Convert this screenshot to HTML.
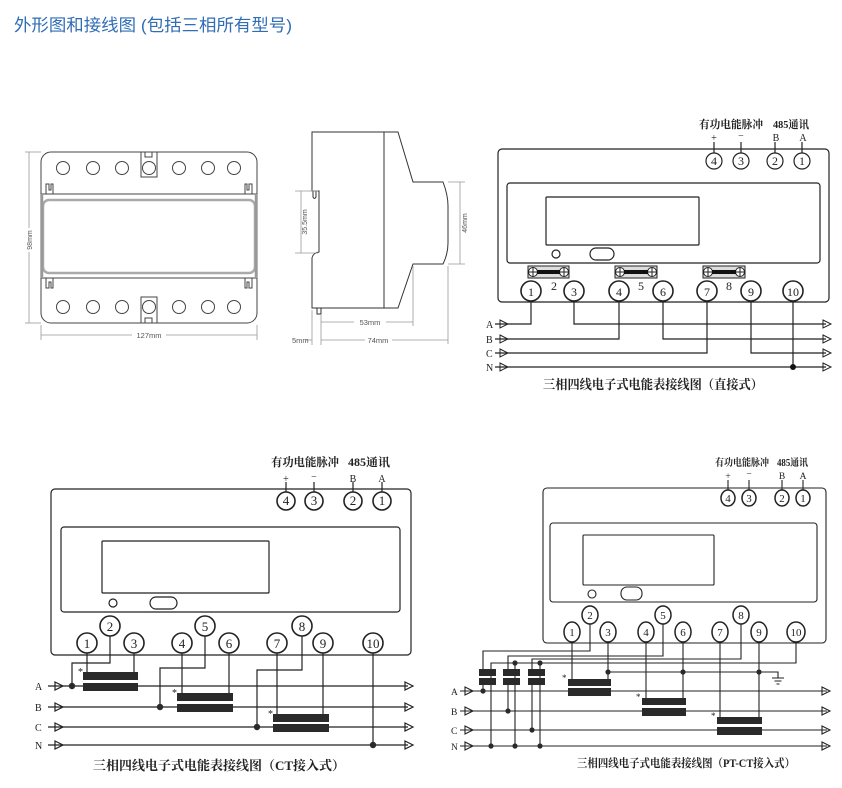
<!DOCTYPE html>
<html><head><meta charset="utf-8">
<style>
html,body{margin:0;padding:0;background:#fff;}
svg{display:block;}
.t{font-family:"Liberation Sans","Noto Sans CJK SC",sans-serif;}
.s{font-family:"Liberation Serif","Noto Serif CJK SC",serif;}
.cj{font-family:"Liberation Serif","Noto Serif CJK SC",serif;font-weight:bold;}
</style></head>
<body>
<svg width="842" height="788" viewBox="0 0 842 788" xmlns="http://www.w3.org/2000/svg">
<rect width="842" height="788" fill="#fff"/>
<!-- Title -->
<text class="t" x="14" y="31" font-size="17" fill="#2f6db5" textLength="278" lengthAdjust="spacingAndGlyphs">外形图和接线图 (包括三相所有型号)</text>

<!-- ========== FRONT VIEW ========== -->
<g fill="none" stroke="#444" stroke-width="1">
  <rect x="41" y="152" width="216" height="171" rx="10"/>
  <line x1="41" y1="194" x2="257" y2="194"/>
  <line x1="41" y1="278" x2="257" y2="278"/>
  <rect x="43" y="200" width="212" height="73" rx="6" stroke="#aaa" stroke-width="2.5"/>
  <line x1="42" y1="194" x2="42" y2="278" stroke="#999" stroke-width="2.5"/>
  <line x1="256" y1="194" x2="256" y2="278" stroke="#999" stroke-width="2.5"/>
  <path d="M46,194 V184 H49 V190 H51 V184 H53 V194"/>
  <path d="M245,194 V184 H247 V190 H249 V184 H252 V194"/>
  <path d="M46,278 V288 H49 V282 H51 V288 H53 V278"/>
  <path d="M245,278 V288 H247 V282 H249 V288 H252 V278"/>
  <circle cx="63" cy="168" r="6.5"/><circle cx="93" cy="168" r="6.5"/><circle cx="122" cy="168" r="6.5"/>
  <circle cx="149" cy="168" r="6.5"/><circle cx="179" cy="168" r="6.5"/><circle cx="208" cy="168" r="6.5"/><circle cx="234" cy="168" r="6.5"/>
  <circle cx="63" cy="307" r="6.5"/><circle cx="93" cy="307" r="6.5"/><circle cx="122" cy="307" r="6.5"/>
  <circle cx="149" cy="307" r="6.5"/><circle cx="179" cy="307" r="6.5"/><circle cx="208" cy="307" r="6.5"/><circle cx="234" cy="307" r="6.5"/>
  <rect x="141" y="152" width="16" height="25"/>
  <rect x="145" y="152" width="7" height="5"/>
  <rect x="141" y="297" width="16" height="26"/>
  <rect x="145" y="318" width="7" height="5"/>
</g>
<g stroke="#999" stroke-width="0.8" fill="none">
  <line x1="29" y1="152" x2="29" y2="228"/><line x1="29" y1="252" x2="29" y2="323"/>
  <line x1="25" y1="152" x2="41" y2="152"/><line x1="25" y1="323" x2="41" y2="323"/>
  <line x1="41" y1="335" x2="132" y2="335"/><line x1="166" y1="335" x2="257" y2="335"/>
  <line x1="41" y1="325" x2="41" y2="340"/><line x1="257" y1="325" x2="257" y2="340"/>
</g>
<text class="t" x="0" y="0" font-size="7" fill="#555" text-anchor="middle" transform="translate(32,240) rotate(-90)">98mm</text>
<text class="t" x="149" y="338" font-size="7.5" fill="#555" text-anchor="middle">127mm</text>

<!-- ========== SIDE VIEW ========== -->
<g fill="none" stroke="#333" stroke-width="1">
  <path d="M312,132 L398,132 L413,182 L443,182 Q448,195 448,206 L448,243 Q448,254 443,264 L413,264 L398,308 L312,308 L312,258 Q313,253 319,252 L319,191 L312,191 Z"/>
  <path d="M313,191 L313,197 Q314.5,200 316,197 L316,191"/>
  <line x1="384" y1="132" x2="384" y2="308"/>
  <rect x="317" y="308" width="4" height="6"/>
</g>
<g stroke="#999" stroke-width="0.8" fill="none">
  <line x1="301" y1="191" x2="301" y2="253"/>
  <line x1="295" y1="191" x2="318" y2="191"/><line x1="295" y1="253" x2="318" y2="253"/>
  <line x1="460" y1="182" x2="460" y2="264"/>
  <line x1="448" y1="182" x2="465" y2="182"/><line x1="448" y1="264" x2="465" y2="264"/>
  <line x1="413" y1="266" x2="413" y2="326"/>
  <line x1="448" y1="266" x2="448" y2="344"/>
  <line x1="312" y1="310" x2="312" y2="345"/>
  <line x1="321" y1="314" x2="321" y2="345"/>
  <line x1="321" y1="322" x2="354" y2="322"/><line x1="386" y1="322" x2="413" y2="322"/>
  <line x1="321" y1="340" x2="365" y2="340"/><line x1="392" y1="340" x2="448" y2="340"/>
  <line x1="306" y1="340" x2="312" y2="340"/>
</g>
<text class="t" font-size="7" fill="#555" text-anchor="middle" transform="translate(307,222) rotate(-90)">35.5mm</text>
<text class="t" font-size="7" fill="#555" text-anchor="middle" transform="translate(467,223) rotate(-90)">46mm</text>
<text class="t" x="370" y="325" font-size="7.5" fill="#555" text-anchor="middle">53mm</text>
<text class="t" x="378" y="343" font-size="7.5" fill="#555" text-anchor="middle">74mm</text>
<text class="t" x="292" y="343" font-size="7.5" fill="#555">5mm</text>

<!-- ========== DIAGRAM 1 (direct) ========== -->
<g fill="none" stroke="#222" stroke-width="1.2">
  <rect x="498" y="149" width="331" height="153" rx="4"/>
  <rect x="507" y="183" width="313" height="80" rx="3"/>
  <rect x="546" y="197" width="153" height="48" rx="1"/>
  <circle cx="556" cy="254" r="4"/>
  <rect x="590" y="248" width="24" height="12" rx="6"/>
  <line x1="714" y1="142" x2="714" y2="153"/><line x1="741" y1="142" x2="741" y2="153"/>
  <line x1="775" y1="142" x2="775" y2="153"/><line x1="802" y1="142" x2="802" y2="153"/>
  <circle cx="714" cy="161" r="8"/><circle cx="741" cy="161" r="8"/><circle cx="775" cy="161" r="8"/><circle cx="802" cy="161" r="8"/>
  <g stroke-width="1.6">
  <circle cx="531" cy="291" r="10"/><circle cx="574" cy="291" r="10"/><circle cx="619" cy="291" r="10"/>
  <circle cx="663" cy="291" r="10"/><circle cx="707" cy="291" r="10"/><circle cx="751" cy="291" r="10"/><circle cx="793" cy="291" r="10"/>
  </g>
  <!-- wires -->
  <path d="M495,324 H531 V301"/>
  <path d="M574,301 V324 H826"/>
  <path d="M495,339 H619 V301"/>
  <path d="M663,301 V339 H826"/>
  <path d="M495,353 H707 V301"/>
  <path d="M751,301 V353 H826"/>
  <path d="M495,367 H826"/>
  <path d="M793,301 V367"/>
</g>
<!-- link bars -->
<g stroke="#222" stroke-width="1">
  <g fill="#ddd"><rect x="528" y="266" width="41" height="12"/><rect x="615" y="266" width="42" height="12"/><rect x="703" y="266" width="42" height="12"/></g>
  <g fill="#fff">
  <circle cx="533" cy="272" r="4.5"/><circle cx="564" cy="272" r="4.5"/>
  <circle cx="620" cy="272" r="4.5"/><circle cx="652" cy="272" r="4.5"/>
  <circle cx="708" cy="272" r="4.5"/><circle cx="740" cy="272" r="4.5"/></g>
  <path d="M529,272h8M533,268v8M560,272h8M564,268v8M616,272h8M620,268v8M648,272h8M652,268v8M704,272h8M708,268v8M736,272h8M740,268v8"/>
  <g fill="#111" stroke="none"><rect x="537" y="270" width="23" height="4"/><rect x="624" y="270" width="24" height="4"/><rect x="712" y="270" width="24" height="4"/></g>
</g>
<circle cx="793" cy="367" r="3" fill="#111"/>
<g fill="none" stroke="#222" stroke-width="1">
  <path d="M500,320 L508,324 L500,328 Z"/><path d="M500,335 L508,339 L500,343 Z"/><path d="M500,349 L508,353 L500,357 Z"/><path d="M500,363 L508,367 L500,371 Z"/>
  <path d="M823,320 L831,324 L823,328 Z"/><path d="M823,335 L831,339 L823,343 Z"/><path d="M823,349 L831,353 L823,357 Z"/><path d="M823,363 L831,367 L823,371 Z"/>
</g>
<g class="s" fill="#222">
  <text x="486" y="328" font-size="10">A</text><text x="486" y="343" font-size="10">B</text>
  <text x="486" y="357" font-size="10">C</text><text x="486" y="371" font-size="10">N</text>
  <g font-size="12" text-anchor="middle">
  <text x="714" y="165">4</text><text x="741" y="165">3</text><text x="775" y="165">2</text><text x="802" y="165">1</text>
  <text x="531" y="296">1</text><text x="574" y="296">3</text><text x="619" y="296">4</text><text x="663" y="296">6</text>
  <text x="707" y="296">7</text><text x="751" y="296">9</text><text x="793" y="296">10</text>
  <text x="554" y="290">2</text><text x="641" y="290">5</text><text x="729" y="290">8</text>
  </g>
  <g font-size="10" text-anchor="middle">
  <text x="714" y="141">+</text><text x="741" y="139">−</text><text x="776" y="141">B</text><text x="803" y="141">A</text>
  </g>
</g>
<text class="cj" x="699" y="128" font-size="11" fill="#222" textLength="64" lengthAdjust="spacingAndGlyphs">有功电能脉冲</text>
<text class="cj" x="773" y="128" font-size="11" fill="#222" textLength="36" lengthAdjust="spacingAndGlyphs">485通讯</text>
<text class="cj" x="543" y="389" font-size="13" fill="#222" textLength="220" lengthAdjust="spacingAndGlyphs">三相四线电子式电能表接线图（直接式）</text>

<!-- ========== DIAGRAM 2 (CT) ========== -->
<g fill="none" stroke="#222" stroke-width="1.2">
  <rect x="51" y="489" width="360" height="166" rx="4"/>
  <rect x="61" y="527" width="339" height="85" rx="3"/>
  <rect x="102" y="541" width="167" height="52" rx="1"/>
  <circle cx="113" cy="603" r="4"/>
  <rect x="150" y="597" width="27" height="12" rx="6"/>
  <line x1="286" y1="482" x2="286" y2="492"/><line x1="314" y1="482" x2="314" y2="492"/>
  <line x1="353" y1="482" x2="353" y2="492"/><line x1="382" y1="482" x2="382" y2="492"/>
  <g stroke-width="1.6">
  <circle cx="286" cy="501" r="9"/><circle cx="314" cy="501" r="9"/><circle cx="353" cy="501" r="9"/><circle cx="382" cy="501" r="9"/>
  <circle cx="87" cy="643" r="10"/><circle cx="110" cy="626" r="10"/><circle cx="134" cy="643" r="10"/>
  <circle cx="182" cy="643" r="10"/><circle cx="205" cy="626" r="10"/><circle cx="229" cy="643" r="10"/>
  <circle cx="277" cy="643" r="10"/><circle cx="302" cy="626" r="10"/><circle cx="323" cy="643" r="10"/>
  <circle cx="373" cy="643" r="10"/>
  </g>
  <path d="M48,686 H408"/><path d="M48,707 H408"/><path d="M48,727 H408"/><path d="M48,745 H408"/>
  <path d="M87,653 V672"/><path d="M134,653 V672"/>
  <path d="M110,636 V663 H72 V686"/>
  <path d="M182,653 V693"/><path d="M229,653 V693"/>
  <path d="M205,636 V668 H160 V707"/>
  <path d="M277,653 V714"/><path d="M323,653 V714"/>
  <path d="M302,636 V670 H257 V727"/>
  <path d="M373,653 V745"/>
  <path d="M55,682 L63,686 L55,690 Z"/><path d="M55,703 L63,707 L55,711 Z"/><path d="M55,723 L63,727 L55,731 Z"/><path d="M55,741 L63,745 L55,749 Z"/>
  <path d="M405,682 L413,686 L405,690 Z"/><path d="M405,703 L413,707 L405,711 Z"/><path d="M405,723 L413,727 L405,731 Z"/><path d="M405,741 L413,745 L405,749 Z"/>
</g>
<g fill="#2a2a2a">
  <rect x="83" y="672" width="55" height="8"/><rect x="83" y="683" width="55" height="8"/>
  <rect x="177" y="693" width="56" height="8"/><rect x="177" y="704" width="56" height="8"/>
  <rect x="273" y="714" width="56" height="8"/><rect x="273" y="724" width="56" height="8"/>
  <circle cx="72" cy="686" r="3.2"/><circle cx="160" cy="707" r="3.2"/><circle cx="257" cy="727" r="3.2"/><circle cx="373" cy="745" r="3.2"/>
</g>
<g class="s" fill="#222">
  <text x="78" y="675" font-size="10">*</text><text x="172" y="696" font-size="10">*</text><text x="268" y="717" font-size="10">*</text>
  <text x="35" y="690" font-size="10">A</text><text x="35" y="711" font-size="10">B</text><text x="35" y="731" font-size="10">C</text><text x="35" y="749" font-size="10">N</text>
  <g font-size="13" text-anchor="middle">
  <text x="286" y="505">4</text><text x="314" y="505">3</text><text x="353" y="505">2</text><text x="382" y="505">1</text>
  <text x="87" y="648">1</text><text x="110" y="631">2</text><text x="134" y="648">3</text>
  <text x="182" y="648">4</text><text x="205" y="631">5</text><text x="229" y="648">6</text>
  <text x="277" y="648">7</text><text x="302" y="631">8</text><text x="323" y="648">9</text><text x="373" y="648">10</text>
  </g>
  <g font-size="10" text-anchor="middle">
  <text x="286" y="482">+</text><text x="314" y="480">−</text><text x="353" y="482">B</text><text x="382" y="482">A</text>
  </g>
</g>
<text class="cj" x="271" y="466" font-size="11.5" fill="#222" textLength="68" lengthAdjust="spacingAndGlyphs">有功电能脉冲</text>
<text class="cj" x="348" y="466" font-size="11.5" fill="#222" textLength="42" lengthAdjust="spacingAndGlyphs">485通讯</text>
<text class="cj" x="93" y="770" font-size="13" fill="#222" textLength="252" lengthAdjust="spacingAndGlyphs">三相四线电子式电能表接线图（CT接入式）</text>

<!-- ========== DIAGRAM 3 (PT-CT) ========== -->
<g fill="none" stroke="#222" stroke-width="1.1">
  <rect x="543" y="488" width="283" height="155" rx="4"/>
  <rect x="550" y="523" width="267" height="79" rx="3"/>
  <rect x="583" y="535" width="131" height="50" rx="1"/>
  <circle cx="592" cy="594" r="4"/>
  <rect x="621" y="587" width="21" height="13" rx="6"/>
  <line x1="728" y1="480" x2="728" y2="490"/><line x1="749" y1="480" x2="749" y2="490"/>
  <line x1="782" y1="480" x2="782" y2="490"/><line x1="803" y1="480" x2="803" y2="490"/>
  <g stroke-width="1.5">
  <ellipse cx="728" cy="498" rx="7" ry="8"/><ellipse cx="749" cy="498" rx="7" ry="8"/><ellipse cx="782" cy="498" rx="7" ry="8"/><ellipse cx="803" cy="498" rx="7" ry="8"/>
  <ellipse cx="572" cy="632" rx="8" ry="10"/><ellipse cx="590" cy="615" rx="8" ry="9"/><ellipse cx="608" cy="632" rx="8" ry="10"/>
  <ellipse cx="646" cy="632" rx="8" ry="10"/><ellipse cx="663" cy="615" rx="8" ry="9"/><ellipse cx="683" cy="632" rx="8" ry="10"/>
  <ellipse cx="720" cy="632" rx="8" ry="10"/><ellipse cx="741" cy="615" rx="8" ry="9"/><ellipse cx="759" cy="632" rx="8" ry="10"/>
  <ellipse cx="796" cy="632" rx="9" ry="10"/>
  </g>
  <path d="M460,691 H827"/><path d="M460,711 H827"/><path d="M460,730 H827"/><path d="M460,746 H827"/>
  <path d="M590,624 V651 H483 V669"/>
  <path d="M663,624 V656 H508 V669"/>
  <path d="M741,624 V659 H532 V669"/>
  <path d="M796,642 V663 H491 V746"/>
  <path d="M515,663 V746"/><path d="M540,663 V746"/>
  <path d="M483,684 V691"/><path d="M508,684 V711"/><path d="M532,684 V730"/>
  <path d="M572,642 V679"/><path d="M608,642 V679"/>
  <path d="M608,672 H778 V678"/>
  <path d="M772,678 H784 M774.5,681 H781.5 M776.5,684 H779.5"/>
  <path d="M646,642 V698"/><path d="M683,642 V698"/>
  <path d="M720,642 V717"/><path d="M759,642 V717"/>
  <path d="M465,687 L473,691 L465,695 Z"/><path d="M465,707 L473,711 L465,715 Z"/><path d="M465,726 L473,730 L465,734 Z"/><path d="M465,742 L473,746 L465,750 Z"/>
  <path d="M822,687 L830,691 L822,695 Z"/><path d="M822,707 L830,711 L822,715 Z"/><path d="M822,726 L830,730 L822,734 Z"/><path d="M822,742 L830,746 L822,750 Z"/>
</g>
<g fill="#2a2a2a">
  <rect x="479" y="669" width="17" height="7"/><rect x="479" y="678" width="17" height="7"/>
  <rect x="503" y="669" width="17" height="7"/><rect x="503" y="678" width="17" height="7"/>
  <rect x="528" y="669" width="17" height="7"/><rect x="528" y="678" width="17" height="7"/>
  <rect x="568" y="679" width="43" height="7"/><rect x="568" y="688" width="43" height="8"/>
  <rect x="642" y="698" width="44" height="7"/><rect x="642" y="708" width="44" height="8"/>
  <rect x="717" y="717" width="45" height="7"/><rect x="717" y="727" width="45" height="8"/>
  <circle cx="483" cy="691" r="2.6"/><circle cx="508" cy="711" r="2.6"/><circle cx="532" cy="730" r="2.6"/>
  <circle cx="491" cy="746" r="2.6"/><circle cx="515" cy="746" r="2.6"/><circle cx="540" cy="746" r="2.6"/>
  <circle cx="515" cy="663" r="2.6"/><circle cx="540" cy="663" r="2.6"/>
  <circle cx="608" cy="672" r="2.6"/><circle cx="683" cy="672" r="2.6"/><circle cx="759" cy="672" r="2.6"/>
</g>
<g class="s" fill="#222">
  <text x="562" y="681" font-size="9">*</text><text x="636" y="700" font-size="9">*</text><text x="711" y="719" font-size="9">*</text>
  <text x="451" y="695" font-size="9.5">A</text><text x="451" y="715" font-size="9.5">B</text><text x="451" y="734" font-size="9.5">C</text><text x="451" y="750" font-size="9.5">N</text>
  <g font-size="11" text-anchor="middle">
  <text x="728" y="502">4</text><text x="749" y="502">3</text><text x="782" y="502">2</text><text x="803" y="502">1</text>
  <text x="572" y="636">1</text><text x="590" y="619">2</text><text x="608" y="636">3</text>
  <text x="646" y="636">4</text><text x="663" y="619">5</text><text x="683" y="636">6</text>
  <text x="720" y="636">7</text><text x="741" y="619">8</text><text x="759" y="636">9</text><text x="796" y="636">10</text>
  </g>
  <g font-size="9.5" text-anchor="middle">
  <text x="728" y="479">+</text><text x="749" y="477">−</text><text x="782" y="479">B</text><text x="803" y="479">A</text>
  </g>
</g>
<text class="cj" x="715" y="466" font-size="10" fill="#222" textLength="54" lengthAdjust="spacingAndGlyphs">有功电能脉冲</text>
<text class="cj" x="777" y="466" font-size="10" fill="#222" textLength="31" lengthAdjust="spacingAndGlyphs">485通讯</text>
<text class="cj" x="577" y="767" font-size="11.5" fill="#222" textLength="218" lengthAdjust="spacingAndGlyphs">三相四线电子式电能表接线图（PT-CT接入式）</text>
</svg>
</body></html>
